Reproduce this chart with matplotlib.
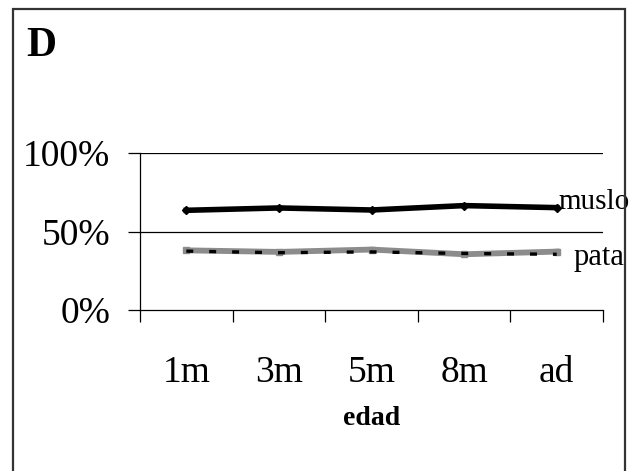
import matplotlib
matplotlib.use("Agg")
import matplotlib.pyplot as plt
from matplotlib.patches import Rectangle
from matplotlib.ticker import FixedLocator, FuncFormatter

plt.rcParams['font.family'] = ['Liberation Serif', 'DejaVu Serif']
plt.rcParams['lines.scale_dashes'] = False

# Data
edad = ["1m", "3m", "5m", "8m", "ad"]
muslo = [63.5, 65.0, 63.7, 66.5, 65.2]
pata = [38.0, 37.0, 38.5, 35.5, 37.2]
pata_linea = [37.5, 36.5, 37.0, 36.0, 35.5]
y_ticks = [0, 50, 100]

W, H = 630, 471
fig = plt.figure(figsize=(W / 100, H / 100), dpi=100)

# Outer frame of the panel
fig.patches.append(Rectangle((13 / W, -0.02), 612 / W, 1 - 9 / H + 0.02,
                             transform=fig.transFigure, fill=False,
                             edgecolor="#333333", linewidth=1.6))

ax = fig.add_axes([140 / W, 1 - 310 / H, (603 - 140) / W, (310 - 153) / H])
x = list(range(len(edad)))

ax.plot(x, muslo, color="black", linewidth=4.0, marker="D", markersize=4.5,
        solid_joinstyle="round", zorder=3)
ax.plot(x, pata, color="#8c8c8c", linewidth=4.2, marker="s", markersize=4.5,
        zorder=3)
ax.plot(x, pata_linea, color="black", linewidth=2.4, linestyle=(0, (5, 11.5)),
        zorder=4)

ax.set_xlim(-0.5, len(edad) - 0.5)
ax.set_ylim(0, 100)

for yv in y_ticks[1:]:
    ax.axhline(yv, color="black", linewidth=0.9, zorder=1)

for s in ["top", "right"]:
    ax.spines[s].set_visible(False)
ax.spines["left"].set_linewidth(0.9)
ax.spines["bottom"].set_linewidth(0.9)

ax.set_yticks(y_ticks)
ax.yaxis.set_major_formatter(FuncFormatter(lambda v, p: f"{int(v)}%"))
ax.tick_params(axis="y", direction="out", length=8.6, width=0.9, pad=13,
               labelsize=27)

ax.xaxis.set_major_locator(FixedLocator([i - 0.5 for i in range(len(edad) + 1)]))
ax.xaxis.set_major_formatter(FuncFormatter(lambda v, p: ""))
ax.xaxis.set_minor_locator(FixedLocator(x))
ax.set_xticklabels(edad, minor=True)
ax.tick_params(axis="x", which="major", direction="out", length=8.6, width=0.9)
ax.tick_params(axis="x", which="minor", length=0, pad=33, labelsize=27)

ax.set_xlabel("edad", fontsize=20, fontweight="bold", labelpad=11)

ax.annotate("muslo", xy=(x[-1], muslo[-1]), xytext=(1.5, 4),
            textcoords="offset points", fontsize=21, va="center", ha="left",
            annotation_clip=False)
ax.annotate("pata", xy=(x[-1], pata[-1]), xytext=(12, -4),
            textcoords="offset points", fontsize=22, va="center", ha="left",
            annotation_clip=False)

fig.text(26 / W, 1 - 46 / H, "D", fontsize=30, fontweight="bold",
         va="center", ha="left")

fig.savefig("out.png", dpi=100)
